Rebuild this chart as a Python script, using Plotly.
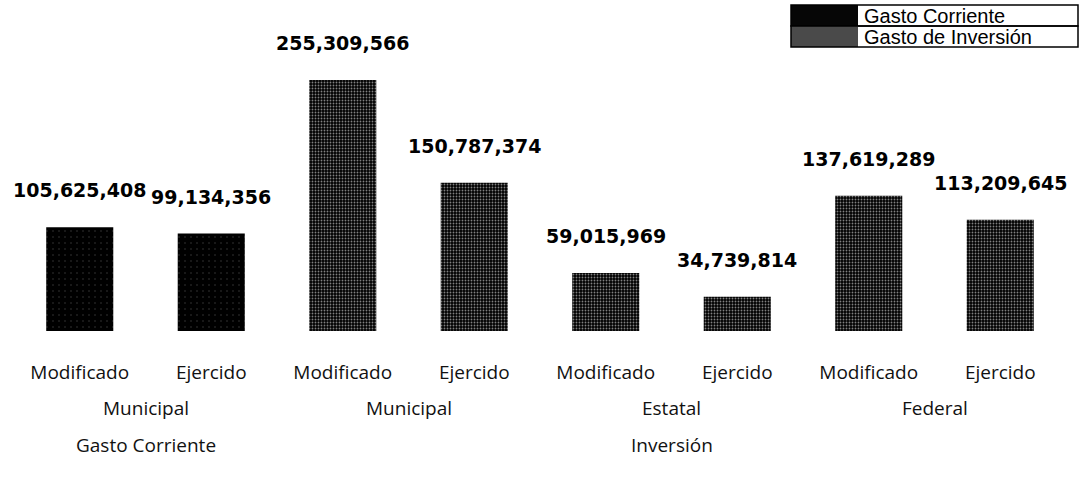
import plotly.graph_objects as go

categories = ["Modificado", "Ejercido", "Modificado", "Ejercido",
              "Modificado", "Ejercido", "Modificado", "Ejercido"]
values = [105625408, 99134356, 255309566, 150787374,
          59015969, 34739814, 137619289, 113209645]
series = ["Gasto Corriente", "Gasto Corriente", "Gasto de Inversión", "Gasto de Inversión",
          "Gasto de Inversión", "Gasto de Inversión", "Gasto de Inversión", "Gasto de Inversión"]
level2 = [(0.5, "Municipal"), (2.5, "Municipal"), (4.5, "Estatal"), (6.5, "Federal")]
level3 = [(0.5, "Gasto Corriente"), (4.5, "Inversión")]
legend_items = ["Gasto Corriente", "Gasto de Inversión"]

W, H = 1080, 480
xs = list(range(len(categories)))

def px(x):
    return x / W

def py(y):
    return 1 - y / H

fig = go.Figure()
for name in legend_items:
    idx = [i for i, s in enumerate(series) if s == name]
    if name == "Gasto Corriente":
        pattern = dict(shape=".", fgcolor="#777777", bgcolor="#000000", size=6, solidity=0.05)
    else:
        pattern = dict(shape=".", fgcolor="#ffffff", bgcolor="#000000", size=3, solidity=0.3)
    fig.add_trace(go.Bar(
        x=[xs[i] for i in idx], y=[values[i] for i in idx], name=name,
        marker=dict(color="#000000", line=dict(width=0), pattern=pattern),
        width=0.51, showlegend=False, hoverinfo="skip",
    ))

for i, v in enumerate(values):
    fig.add_annotation(x=xs[i], y=v, text=f"{v:,}", showarrow=False,
                       yanchor="bottom", yshift=24,
                       font=dict(family="DejaVu Sans", size=19, color="#000000", weight="bold"))

lab_font = dict(family="Open Sans", size=19, color="#111111")
for x, t in level2:
    fig.add_annotation(x=x, xref="x", y=py(408), yref="paper", text=t, showarrow=False,
                       xanchor="center", yanchor="middle", font=lab_font)
for x, t in level3:
    fig.add_annotation(x=x, xref="x", y=py(445), yref="paper", text=t, showarrow=False,
                       xanchor="center", yanchor="middle", font=lab_font)

# legend box
lx0, lx1, lsw = 791, 1078, 858
rows = [(5, 26), (26, 47)]
fills = ["#060606", "#4a4a4a"]
for (y0, y1), f, t in zip(rows, fills, legend_items):
    fig.add_shape(type="rect", xref="paper", yref="paper",
                  x0=px(lx0), x1=px(lsw), y0=py(y1), y1=py(y0),
                  fillcolor=f, line=dict(width=0))
    fig.add_shape(type="rect", xref="paper", yref="paper",
                  x0=px(lx0), x1=px(lx1), y0=py(y1), y1=py(y0),
                  fillcolor="rgba(0,0,0,0)", line=dict(color="#000000", width=1.5))
    fig.add_annotation(x=px(lsw + 4), y=py((y0 + y1) / 2), xref="paper", yref="paper",
                       xanchor="left", yanchor="middle", text=t, showarrow=False,
                       font=dict(family="Liberation Sans", size=20, color="#000000"))

fig.update_layout(
    width=W, height=H,
    margin=dict(l=0, r=0, t=0, b=0),
    paper_bgcolor="white", plot_bgcolor="white",
    showlegend=False, barmode="overlay", hovermode=False,
    xaxis=dict(domain=[14 / W, 1066 / W], range=[-0.5, 7.5],
               tickmode="array", tickvals=xs, ticktext=categories,
               showgrid=False, zeroline=False, showline=False, ticks="",
               ticklabelstandoff=28, automargin=False, fixedrange=True,
               tickfont=lab_font),
    yaxis=dict(domain=[1 - 331 / H, 1 - 36 / H], range=[0, 300000000],
               visible=False, automargin=False, fixedrange=True),
)

fig.write_html("out.html", config={"displayModeBar": False},
               post_script="document.body.style.margin='0';")
